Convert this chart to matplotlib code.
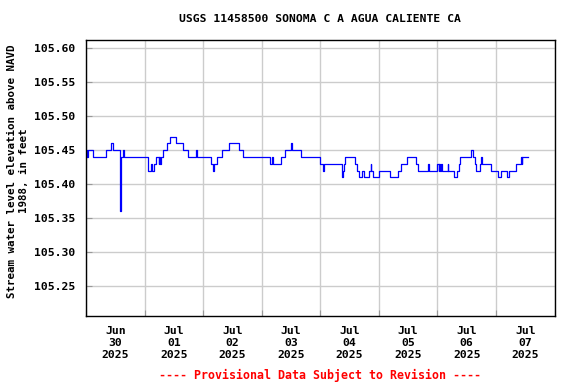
import numpy as np
import pandas as pd
import matplotlib
matplotlib.use("Agg")
import matplotlib.pyplot as plt
import matplotlib.dates as mdates

# hours after 2025-06-30 00:00 where the gage value changes (step series)
hours = [0, 0.25, 0.5, 0.75, 1.0, 2.75, 8.25, 10.25, 11.0, 13.75, 14.0, 14.25,
         14.5, 15.0, 15.75, 25.25, 25.5, 26.5, 27.25, 27.75, 28.75, 29.75, 30.0,
         30.25, 30.75, 31.5, 33.0, 34.5, 36.75, 39.75, 42.0, 45.0, 45.5, 51.25,
         52.0, 52.5, 53.75, 55.75, 58.75, 62.5, 64.5, 75.5, 76.25, 76.75, 79.75,
         81.75, 84.0, 84.5, 88.25, 95.75, 97.25, 97.5, 104.75, 105.5, 105.75,
         106.0, 110.25, 111.0, 112.0, 113.25, 114.0, 116.0, 116.75, 117.0, 117.5,
         120.0, 124.75, 127.75, 129.25, 131.5, 135.25, 136.0, 140.25, 140.5,
         144.0, 144.5, 144.75, 145.25, 145.5, 145.75, 148.25, 148.5, 151.0, 152.0,
         152.75, 153.25, 157.75, 158.5, 159.25, 159.75, 161.5, 162.0, 162.25,
         166.0, 169.0, 170.0, 172.5, 173.5, 176.25, 178.25, 178.5, 178.75, 181.0]
levels = [105.44, 105.45, 105.44, 105.45, 105.45, 105.44, 105.45, 105.46, 105.45,
          105.41, 105.36, 105.40, 105.44, 105.45, 105.44, 105.43, 105.42, 105.43,
          105.42, 105.43, 105.44, 105.43, 105.44, 105.43, 105.44, 105.45, 105.46,
          105.47, 105.46, 105.45, 105.44, 105.45, 105.44, 105.43, 105.42, 105.43,
          105.44, 105.45, 105.46, 105.45, 105.44, 105.43, 105.44, 105.43, 105.44,
          105.45, 105.46, 105.45, 105.44, 105.43, 105.42, 105.43, 105.41, 105.42,
          105.43, 105.44, 105.43, 105.42, 105.41, 105.42, 105.41, 105.42, 105.43,
          105.42, 105.41, 105.42, 105.41, 105.42, 105.43, 105.44, 105.43, 105.42,
          105.43, 105.42, 105.43, 105.42, 105.43, 105.42, 105.43, 105.42, 105.43,
          105.42, 105.41, 105.42, 105.43, 105.44, 105.45, 105.44, 105.43, 105.42,
          105.43, 105.44, 105.43, 105.42, 105.41, 105.42, 105.41, 105.42, 105.43,
          105.44, 105.43, 105.44, 105.44]

yticks = [105.25, 105.30, 105.35, 105.40, 105.45, 105.50, 105.55, 105.60]

start = pd.Timestamp("2025-06-30")
times = start + pd.to_timedelta(hours, unit="h")

FONT = "DejaVu Sans Mono"

fig = plt.figure(figsize=(5.76, 3.84), dpi=100)
ax = fig.add_axes([86 / 576, 1 - 316 / 384, 468.5 / 576, 276 / 384])

ax.plot(times, levels, drawstyle="steps-post", color="#0000ff", lw=0.9)

ax.set_xlim(start, start + pd.Timedelta(days=8))
ax.set_ylim(105.206, 105.612)
ax.set_yticks(yticks)
ax.set_yticklabels([f"{v:.2f}" for v in yticks], fontfamily=FONT,
                   fontweight="bold", fontsize=8.2)

# midnight ticks carry the grid, noon ticks carry the labels
ax.xaxis.set_major_locator(mdates.DayLocator())
ax.xaxis.set_major_formatter(plt.NullFormatter())
ax.xaxis.set_minor_locator(mdates.HourLocator(byhour=[12]))
ax.xaxis.set_minor_formatter(mdates.DateFormatter("%b\n%d\n%Y"))
for lab in ax.xaxis.get_minorticklabels():
    lab.set_fontfamily(FONT)
    lab.set_fontweight("bold")
    lab.set_fontsize(8.2)
    lab.set_linespacing(1.25)
ax.tick_params(axis="x", which="minor", length=0, pad=7)
ax.tick_params(axis="x", which="major", direction="in", length=4, color="#999999")
ax.tick_params(axis="y", direction="in", length=4, color="#999999", pad=8)

ax.grid(True, which="major", color="#cccccc", lw=1)
ax.set_axisbelow(True)
for s in ax.spines.values():
    s.set_color("black")
    s.set_linewidth(1)

fig.text(320 / 576, 1 - 19 / 384, "USGS 11458500 SONOMA C A AGUA CALIENTE CA",
         ha="center", va="center", fontfamily=FONT, fontweight="bold", fontsize=8.2)
fig.text(18 / 576, 1 - 171 / 384,
         "Stream water level elevation above NAVD\n1988, in feet",
         ha="center", va="center", rotation=90, multialignment="center",
         fontfamily=FONT, fontweight="bold", fontsize=7.8, linespacing=1.2)
fig.text(320 / 576, 1 - 375 / 384, "---- Provisional Data Subject to Revision ----",
         ha="center", va="center", color="red", fontfamily=FONT,
         fontweight="bold", fontsize=8.4)

fig.savefig("out.png", dpi=100)
